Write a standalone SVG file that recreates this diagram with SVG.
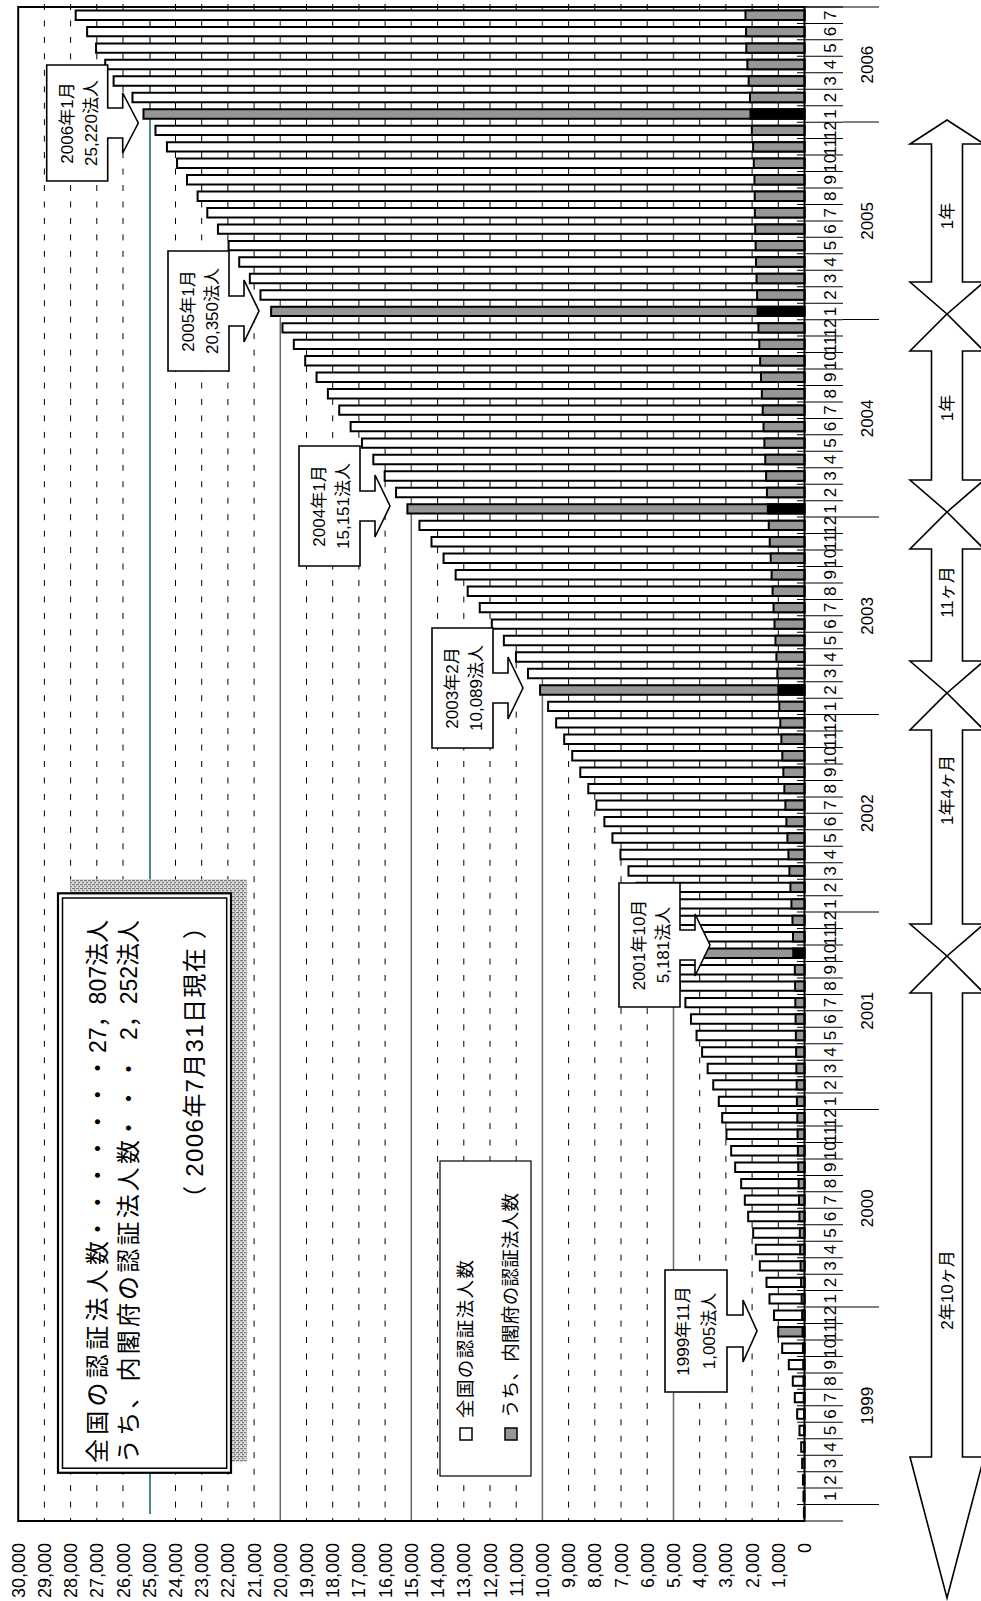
<svg xmlns="http://www.w3.org/2000/svg" width="981" height="1601" viewBox="0 0 981 1601">
<style>
text{font-family:"Liberation Sans","Noto Sans CJK JP",sans-serif;fill:#000}
.gd{stroke:#000;stroke-width:1;stroke-dasharray:6 10.457;fill:none}
.gs{stroke:#666;stroke-width:1.5;fill:none}
.b{stroke:#000;stroke-width:2;vector-effect:non-scaling-stroke}
.t{fill:#fff}.c{fill:#969696}.ht{fill:#969696}.hc{fill:#000}
.mon text{font-size:17px;text-anchor:middle}
.val text{font-size:18px;text-anchor:end}
.co path{fill:#fff;stroke:#000;stroke-width:1.6}
.co text{font-size:17px;text-anchor:middle}
.sp path{fill:#fff;stroke:#000;stroke-width:1.6}
.sp text{font-size:17px;text-anchor:middle}
</style>
<defs>
<pattern id="hatch" width="4" height="4" patternUnits="userSpaceOnUse"><rect width="4" height="4" fill="#dcdcdc"/><rect width="3" height="1.2" fill="#7a7a7a"/><rect x="2" y="2" width="2" height="1.2" fill="#7a7a7a"/></pattern>
</defs>
<rect width="981" height="1601" fill="#fff"/>

<g id="gridlines">
<path class="gd" d="M778.3,4V1521M752.1,4V1521M725.9,4V1521M699.7,4V1521M647.2,4V1521M621,4V1521M594.8,4V1521M568.6,4V1521M516.2,4V1521M490,4V1521M463.8,4V1521M437.6,4V1521M385.1,4V1521M358.9,4V1521M332.7,4V1521M306.5,4V1521M254.1,4V1521M227.9,4V1521M201.7,4V1521M175.5,4V1521M123,4V1521M96.8,4V1521M70.6,4V1521M44.4,4V1521"/>
<path class="gs" d="M673.5,7V1521M542.4,7V1521M411.3,7V1521M280.3,7V1521"/>
<line x1="150" y1="15" x2="150" y2="1514" stroke="#1f6b6b" stroke-width="1.6"/>
</g>

<g id="bars" transform="matrix(-0.02621 0 0 -16.457 804.5 1521)">
<rect class="b t" x="0" y="0.214" width="23" height="0.571"/>
<rect class="b t" x="0" y="1.214" width="40" height="0.571"/>
<rect class="b t" x="0" y="2.214" width="60" height="0.571"/>
<rect class="b t" x="0" y="3.214" width="90" height="0.571"/>
<rect class="b t" x="0" y="4.214" width="126" height="0.571"/>
<rect class="b t" x="0" y="5.214" width="191" height="0.571"/>
<rect class="b t" x="0" y="6.214" width="280" height="0.571"/>
<rect class="b t" x="0" y="7.214" width="370" height="0.571"/>
<rect class="b t" x="0" y="8.214" width="446" height="0.571"/>
<rect class="b t" x="0" y="9.214" width="598" height="0.571"/>
<rect class="b t" x="0" y="10.214" width="851" height="0.571"/>
<rect class="b ht" x="0" y="11.214" width="1005" height="0.571"/>
<rect class="b t" x="0" y="12.214" width="1163" height="0.571"/>
<rect class="b t" x="0" y="13.214" width="1336" height="0.571"/>
<rect class="b t" x="0" y="14.214" width="1450" height="0.571"/>
<rect class="b t" x="0" y="15.214" width="1705" height="0.571"/>
<rect class="b t" x="0" y="16.214" width="1858" height="0.571"/>
<rect class="b t" x="0" y="17.214" width="1958" height="0.571"/>
<rect class="b t" x="0" y="18.214" width="2149" height="0.571"/>
<rect class="b t" x="0" y="19.214" width="2277" height="0.571"/>
<rect class="b t" x="0" y="20.214" width="2416" height="0.571"/>
<rect class="b t" x="0" y="21.214" width="2645" height="0.571"/>
<rect class="b t" x="0" y="22.214" width="2798" height="0.571"/>
<rect class="b t" x="0" y="23.214" width="2977" height="0.571"/>
<rect class="b t" x="0" y="24.214" width="3141" height="0.571"/>
<rect class="b t" x="0" y="25.214" width="3270" height="0.571"/>
<rect class="b t" x="0" y="26.214" width="3482" height="0.571"/>
<rect class="b t" x="0" y="27.214" width="3695" height="0.571"/>
<rect class="b t" x="0" y="28.214" width="3907" height="0.571"/>
<rect class="b t" x="0" y="29.214" width="4119" height="0.571"/>
<rect class="b t" x="0" y="30.214" width="4332" height="0.571"/>
<rect class="b t" x="0" y="31.214" width="4544" height="0.571"/>
<rect class="b t" x="0" y="32.214" width="4756" height="0.571"/>
<rect class="b t" x="0" y="33.214" width="4969" height="0.571"/>
<rect class="b ht" x="0" y="34.214" width="5181" height="0.571"/>
<rect class="b t" x="0" y="35.214" width="5488" height="0.571"/>
<rect class="b t" x="0" y="36.214" width="5795" height="0.571"/>
<rect class="b t" x="0" y="37.214" width="6101" height="0.571"/>
<rect class="b t" x="0" y="38.214" width="6408" height="0.571"/>
<rect class="b t" x="0" y="39.214" width="6715" height="0.571"/>
<rect class="b t" x="0" y="40.214" width="7022" height="0.571"/>
<rect class="b t" x="0" y="41.214" width="7328" height="0.571"/>
<rect class="b t" x="0" y="42.214" width="7635" height="0.571"/>
<rect class="b t" x="0" y="43.214" width="7942" height="0.571"/>
<rect class="b t" x="0" y="44.214" width="8249" height="0.571"/>
<rect class="b t" x="0" y="45.214" width="8555" height="0.571"/>
<rect class="b t" x="0" y="46.214" width="8862" height="0.571"/>
<rect class="b t" x="0" y="47.214" width="9169" height="0.571"/>
<rect class="b t" x="0" y="48.214" width="9476" height="0.571"/>
<rect class="b t" x="0" y="49.214" width="9782" height="0.571"/>
<rect class="b ht" x="0" y="50.214" width="10089" height="0.571"/>
<rect class="b t" x="0" y="51.214" width="10549" height="0.571"/>
<rect class="b t" x="0" y="52.214" width="11009" height="0.571"/>
<rect class="b t" x="0" y="53.214" width="11470" height="0.571"/>
<rect class="b t" x="0" y="54.214" width="11930" height="0.571"/>
<rect class="b t" x="0" y="55.214" width="12390" height="0.571"/>
<rect class="b t" x="0" y="56.214" width="12850" height="0.571"/>
<rect class="b t" x="0" y="57.214" width="13310" height="0.571"/>
<rect class="b t" x="0" y="58.214" width="13771" height="0.571"/>
<rect class="b t" x="0" y="59.214" width="14231" height="0.571"/>
<rect class="b t" x="0" y="60.214" width="14691" height="0.571"/>
<rect class="b ht" x="0" y="61.214" width="15151" height="0.571"/>
<rect class="b t" x="0" y="62.214" width="15584" height="0.571"/>
<rect class="b t" x="0" y="63.214" width="16018" height="0.571"/>
<rect class="b t" x="0" y="64.214" width="16451" height="0.571"/>
<rect class="b t" x="0" y="65.214" width="16884" height="0.571"/>
<rect class="b t" x="0" y="66.214" width="17317" height="0.571"/>
<rect class="b t" x="0" y="67.214" width="17751" height="0.571"/>
<rect class="b t" x="0" y="68.214" width="18184" height="0.571"/>
<rect class="b t" x="0" y="69.214" width="18617" height="0.571"/>
<rect class="b t" x="0" y="70.214" width="19050" height="0.571"/>
<rect class="b t" x="0" y="71.214" width="19484" height="0.571"/>
<rect class="b t" x="0" y="72.214" width="19917" height="0.571"/>
<rect class="b ht" x="0" y="73.214" width="20350" height="0.571"/>
<rect class="b t" x="0" y="74.214" width="20756" height="0.571"/>
<rect class="b t" x="0" y="75.214" width="21162" height="0.571"/>
<rect class="b t" x="0" y="76.214" width="21568" height="0.571"/>
<rect class="b t" x="0" y="77.214" width="21973" height="0.571"/>
<rect class="b t" x="0" y="78.214" width="22379" height="0.571"/>
<rect class="b t" x="0" y="79.214" width="22785" height="0.571"/>
<rect class="b t" x="0" y="80.214" width="23155" height="0.571"/>
<rect class="b t" x="0" y="81.214" width="23560" height="0.571"/>
<rect class="b t" x="0" y="82.214" width="23940" height="0.571"/>
<rect class="b t" x="0" y="83.214" width="24325" height="0.571"/>
<rect class="b t" x="0" y="84.214" width="24763" height="0.571"/>
<rect class="b ht" x="0" y="85.214" width="25220" height="0.571"/>
<rect class="b t" x="0" y="86.214" width="25640" height="0.571"/>
<rect class="b t" x="0" y="87.214" width="26360" height="0.571"/>
<rect class="b t" x="0" y="88.214" width="26680" height="0.571"/>
<rect class="b t" x="0" y="89.214" width="27030" height="0.571"/>
<rect class="b t" x="0" y="90.214" width="27370" height="0.571"/>
<rect class="b t" x="0" y="91.214" width="27807" height="0.571"/>
<rect class="b c" x="0" y="4.214" width="4" height="0.571"/>
<rect class="b c" x="0" y="5.214" width="10" height="0.571"/>
<rect class="b c" x="0" y="6.214" width="20" height="0.571"/>
<rect class="b c" x="0" y="7.214" width="30" height="0.571"/>
<rect class="b c" x="0" y="8.214" width="40" height="0.571"/>
<rect class="b c" x="0" y="9.214" width="50" height="0.571"/>
<rect class="b c" x="0" y="10.214" width="60" height="0.571"/>
<rect class="b hc" x="0" y="11.214" width="75" height="0.571"/>
<rect class="b c" x="0" y="12.214" width="90" height="0.571"/>
<rect class="b c" x="0" y="13.214" width="110" height="0.571"/>
<rect class="b c" x="0" y="14.214" width="130" height="0.571"/>
<rect class="b c" x="0" y="15.214" width="150" height="0.571"/>
<rect class="b c" x="0" y="16.214" width="165" height="0.571"/>
<rect class="b c" x="0" y="17.214" width="180" height="0.571"/>
<rect class="b c" x="0" y="18.214" width="195" height="0.571"/>
<rect class="b c" x="0" y="19.214" width="210" height="0.571"/>
<rect class="b c" x="0" y="20.214" width="225" height="0.571"/>
<rect class="b c" x="0" y="21.214" width="240" height="0.571"/>
<rect class="b c" x="0" y="22.214" width="255" height="0.571"/>
<rect class="b c" x="0" y="23.214" width="265" height="0.571"/>
<rect class="b c" x="0" y="24.214" width="275" height="0.571"/>
<rect class="b c" x="0" y="25.214" width="290" height="0.571"/>
<rect class="b c" x="0" y="26.214" width="300" height="0.571"/>
<rect class="b c" x="0" y="27.214" width="310" height="0.571"/>
<rect class="b c" x="0" y="28.214" width="320" height="0.571"/>
<rect class="b c" x="0" y="29.214" width="330" height="0.571"/>
<rect class="b c" x="0" y="30.214" width="340" height="0.571"/>
<rect class="b c" x="0" y="31.214" width="350" height="0.571"/>
<rect class="b c" x="0" y="32.214" width="360" height="0.571"/>
<rect class="b c" x="0" y="33.214" width="370" height="0.571"/>
<rect class="b hc" x="0" y="34.214" width="430" height="0.571"/>
<rect class="b c" x="0" y="35.214" width="440" height="0.571"/>
<rect class="b c" x="0" y="36.214" width="460" height="0.571"/>
<rect class="b c" x="0" y="37.214" width="499" height="0.571"/>
<rect class="b c" x="0" y="38.214" width="537" height="0.571"/>
<rect class="b c" x="0" y="39.214" width="576" height="0.571"/>
<rect class="b c" x="0" y="40.214" width="614" height="0.571"/>
<rect class="b c" x="0" y="41.214" width="653" height="0.571"/>
<rect class="b c" x="0" y="42.214" width="691" height="0.571"/>
<rect class="b c" x="0" y="43.214" width="730" height="0.571"/>
<rect class="b c" x="0" y="44.214" width="769" height="0.571"/>
<rect class="b c" x="0" y="45.214" width="807" height="0.571"/>
<rect class="b c" x="0" y="46.214" width="846" height="0.571"/>
<rect class="b c" x="0" y="47.214" width="884" height="0.571"/>
<rect class="b c" x="0" y="48.214" width="923" height="0.571"/>
<rect class="b c" x="0" y="49.214" width="961" height="0.571"/>
<rect class="b hc" x="0" y="50.214" width="1000" height="0.571"/>
<rect class="b c" x="0" y="51.214" width="1036" height="0.571"/>
<rect class="b c" x="0" y="52.214" width="1073" height="0.571"/>
<rect class="b c" x="0" y="53.214" width="1109" height="0.571"/>
<rect class="b c" x="0" y="54.214" width="1145" height="0.571"/>
<rect class="b c" x="0" y="55.214" width="1182" height="0.571"/>
<rect class="b c" x="0" y="56.214" width="1218" height="0.571"/>
<rect class="b c" x="0" y="57.214" width="1255" height="0.571"/>
<rect class="b c" x="0" y="58.214" width="1291" height="0.571"/>
<rect class="b c" x="0" y="59.214" width="1327" height="0.571"/>
<rect class="b c" x="0" y="60.214" width="1364" height="0.571"/>
<rect class="b hc" x="0" y="61.214" width="1400" height="0.571"/>
<rect class="b c" x="0" y="62.214" width="1433" height="0.571"/>
<rect class="b c" x="0" y="63.214" width="1465" height="0.571"/>
<rect class="b c" x="0" y="64.214" width="1498" height="0.571"/>
<rect class="b c" x="0" y="65.214" width="1530" height="0.571"/>
<rect class="b c" x="0" y="66.214" width="1563" height="0.571"/>
<rect class="b c" x="0" y="67.214" width="1595" height="0.571"/>
<rect class="b c" x="0" y="68.214" width="1628" height="0.571"/>
<rect class="b c" x="0" y="69.214" width="1660" height="0.571"/>
<rect class="b c" x="0" y="70.214" width="1693" height="0.571"/>
<rect class="b c" x="0" y="71.214" width="1725" height="0.571"/>
<rect class="b c" x="0" y="72.214" width="1758" height="0.571"/>
<rect class="b hc" x="0" y="73.214" width="1790" height="0.571"/>
<rect class="b c" x="0" y="74.214" width="1810" height="0.571"/>
<rect class="b c" x="0" y="75.214" width="1830" height="0.571"/>
<rect class="b c" x="0" y="76.214" width="1850" height="0.571"/>
<rect class="b c" x="0" y="77.214" width="1865" height="0.571"/>
<rect class="b c" x="0" y="78.214" width="1880" height="0.571"/>
<rect class="b c" x="0" y="79.214" width="1895" height="0.571"/>
<rect class="b c" x="0" y="80.214" width="1900" height="0.571"/>
<rect class="b c" x="0" y="81.214" width="1910" height="0.571"/>
<rect class="b c" x="0" y="82.214" width="1935" height="0.571"/>
<rect class="b c" x="0" y="83.214" width="1960" height="0.571"/>
<rect class="b c" x="0" y="84.214" width="2010" height="0.571"/>
<rect class="b hc" x="0" y="85.214" width="2061" height="0.571"/>
<rect class="b c" x="0" y="86.214" width="2080" height="0.571"/>
<rect class="b c" x="0" y="87.214" width="2130" height="0.571"/>
<rect class="b c" x="0" y="88.214" width="2180" height="0.571"/>
<rect class="b c" x="0" y="89.214" width="2220" height="0.571"/>
<rect class="b c" x="0" y="90.214" width="2230" height="0.571"/>
<rect class="b c" x="0" y="91.214" width="2252" height="0.571"/>
</g>

<g id="axes">
<path d="M18.2,7H804.5V1521H18.2Z" fill="none" stroke="#000" stroke-width="2"/>
<line x1="820" y1="1521.5" x2="820" y2="6" stroke="#000" stroke-width="46" stroke-dasharray="1 15.457"/>
<line x1="861" y1="1505" x2="861" y2="100" stroke="#000" stroke-width="36" stroke-dasharray="1 196.484"/>
<line x1="804" y1="7" x2="879" y2="7" stroke="#000" stroke-width="1"/>
</g>

<g class="mon" transform="rotate(-90)">
<text x="-1496.3" y="836">1</text><text x="-1479.9" y="836">2</text><text x="-1463.4" y="836">3</text><text x="-1447" y="836">4</text><text x="-1430.5" y="836">5</text><text x="-1414" y="836">6</text><text x="-1397.6" y="836">7</text><text x="-1381.1" y="836">8</text><text x="-1364.7" y="836">9</text><text x="-1348.2" y="836">10</text><text x="-1331.8" y="836">11</text><text x="-1315.3" y="836">12</text>
<text x="-1298.8" y="836">1</text><text x="-1282.4" y="836">2</text><text x="-1265.9" y="836">3</text><text x="-1249.5" y="836">4</text><text x="-1233" y="836">5</text><text x="-1216.5" y="836">6</text><text x="-1200.1" y="836">7</text><text x="-1183.6" y="836">8</text><text x="-1167.2" y="836">9</text><text x="-1150.7" y="836">10</text><text x="-1134.3" y="836">11</text><text x="-1117.8" y="836">12</text>
<text x="-1101.3" y="836">1</text><text x="-1084.9" y="836">2</text><text x="-1068.4" y="836">3</text><text x="-1052" y="836">4</text><text x="-1035.5" y="836">5</text><text x="-1019.1" y="836">6</text><text x="-1002.6" y="836">7</text><text x="-986.1" y="836">8</text><text x="-969.7" y="836">9</text><text x="-953.2" y="836">10</text><text x="-936.8" y="836">11</text><text x="-920.3" y="836">12</text>
<text x="-903.9" y="836">1</text><text x="-887.4" y="836">2</text><text x="-870.9" y="836">3</text><text x="-854.5" y="836">4</text><text x="-838" y="836">5</text><text x="-821.6" y="836">6</text><text x="-805.1" y="836">7</text><text x="-788.7" y="836">8</text><text x="-772.2" y="836">9</text><text x="-755.7" y="836">10</text><text x="-739.3" y="836">11</text><text x="-722.8" y="836">12</text>
<text x="-706.4" y="836">1</text><text x="-689.9" y="836">2</text><text x="-673.5" y="836">3</text><text x="-657" y="836">4</text><text x="-640.5" y="836">5</text><text x="-624.1" y="836">6</text><text x="-607.6" y="836">7</text><text x="-591.2" y="836">8</text><text x="-574.7" y="836">9</text><text x="-558.3" y="836">10</text><text x="-541.8" y="836">11</text><text x="-525.3" y="836">12</text>
<text x="-508.9" y="836">1</text><text x="-492.4" y="836">2</text><text x="-476" y="836">3</text><text x="-459.5" y="836">4</text><text x="-443.1" y="836">5</text><text x="-426.6" y="836">6</text><text x="-410.1" y="836">7</text><text x="-393.7" y="836">8</text><text x="-377.2" y="836">9</text><text x="-360.8" y="836">10</text><text x="-344.3" y="836">11</text><text x="-327.9" y="836">12</text>
<text x="-311.4" y="836">1</text><text x="-294.9" y="836">2</text><text x="-278.5" y="836">3</text><text x="-262" y="836">4</text><text x="-245.6" y="836">5</text><text x="-229.1" y="836">6</text><text x="-212.7" y="836">7</text><text x="-196.2" y="836">8</text><text x="-179.7" y="836">9</text><text x="-163.3" y="836">10</text><text x="-146.8" y="836">11</text><text x="-130.4" y="836">12</text>
<text x="-113.9" y="836">1</text><text x="-97.5" y="836">2</text><text x="-81" y="836">3</text><text x="-64.5" y="836">4</text><text x="-48.1" y="836">5</text><text x="-31.6" y="836">6</text><text x="-15.2" y="836">7</text>
<text x="-1405.8" y="873">1999</text><text x="-1208.3" y="873">2000</text><text x="-1010.8" y="873">2001</text><text x="-813.3" y="873">2002</text><text x="-615.9" y="873">2003</text><text x="-418.4" y="873">2004</text><text x="-220.9" y="873">2005</text><text x="-64.6" y="873">2006</text>
</g>

<g class="val" transform="rotate(-90)">
<text x="-1543" y="24.7">30,000</text><text x="-1543" y="50.9">29,000</text><text x="-1543" y="77.1">28,000</text><text x="-1543" y="103.3">27,000</text><text x="-1543" y="129.5">26,000</text><text x="-1543" y="155.8">25,000</text><text x="-1543" y="182">24,000</text><text x="-1543" y="208.2">23,000</text><text x="-1543" y="234.4">22,000</text><text x="-1543" y="260.6">21,000</text><text x="-1543" y="286.8">20,000</text><text x="-1543" y="313">19,000</text><text x="-1543" y="339.2">18,000</text><text x="-1543" y="365.4">17,000</text><text x="-1543" y="391.6">16,000</text><text x="-1543" y="417.8">15,000</text><text x="-1543" y="444.1">14,000</text><text x="-1543" y="470.3">13,000</text><text x="-1543" y="496.5">12,000</text><text x="-1543" y="522.7">11,000</text><text x="-1543" y="548.9">10,000</text><text x="-1543" y="575.1">9,000</text><text x="-1543" y="601.3">8,000</text><text x="-1543" y="627.5">7,000</text><text x="-1543" y="653.7">6,000</text><text x="-1543" y="680">5,000</text><text x="-1543" y="706.2">4,000</text><text x="-1543" y="732.4">3,000</text><text x="-1543" y="758.6">2,000</text><text x="-1543" y="784.8">1,000</text><text x="-1543" y="811">0</text>
</g>

<g id="title-box">
<rect x="70" y="879.3" width="176.7" height="582.4" fill="url(#hatch)"/>
<rect x="58" y="893.3" width="173" height="579.5" fill="#fff" stroke="#000" stroke-width="2.2"/>
<rect x="62.5" y="898" width="164.2" height="570.2" fill="none" stroke="#000" stroke-width="1.5"/>
<g transform="rotate(-90)" font-size="24">
<text x="-1463" y="106" textLength="222" lengthAdjust="spacing">全国の認証法人数</text>
<text x="-1241" y="106" textLength="185" lengthAdjust="spacing">・・・・・・・</text>
<text x="-1053" y="106" textLength="133" lengthAdjust="spacingAndGlyphs">27，807法人</text>
<text x="-1463" y="137" textLength="323" lengthAdjust="spacing">うち、内閣府の認証法人数</text>
<text x="-1140" y="137" textLength="83" lengthAdjust="spacing">・・・</text>
<text x="-1040" y="137" textLength="120" lengthAdjust="spacingAndGlyphs">2，252法人</text>
<text x="-1210" y="203" textLength="295" lengthAdjust="spacing">（ 2006年7月31日現在 ）</text>
</g>
</g>

<g id="legend">
<rect x="440" y="1161" width="91" height="315" fill="#fff" stroke="#000" stroke-width="1.2"/>
<rect x="460" y="1428" width="12" height="12" fill="#fff" stroke="#000" stroke-width="1.5"/>
<rect x="505" y="1428" width="12" height="12" fill="#969696" stroke="#000" stroke-width="1.5"/>
<g transform="rotate(-90)" font-size="18.5">
<text x="-1418" y="472" textLength="158" lengthAdjust="spacing">全国の認証法人数</text>
<text x="-1418" y="517" textLength="225" lengthAdjust="spacing">うち、内閣府の認証法人数</text>
</g>
</g>

<g id="callout-2006-01" class="co">
<path d="M46.7,65H107.7V108H122.7V93L138.3,123L122.7,153V138H107.7V181H46.7Z"/>
<g transform="rotate(-90)"><text x="-123" y="72.5">2006年1月</text><text x="-123" y="97">25,220法人</text></g>
</g>
<g id="callout-2005-01" class="co">
<path d="M168,251H229V296H244V280L259,311L244,342V326H229V371H168Z"/>
<g transform="rotate(-90)"><text x="-311" y="193.5">2005年1月</text><text x="-311" y="218">20,350法人</text></g>
</g>
<g id="callout-2004-01" class="co">
<path d="M299,446H360V491H375V475L390,506L375,537V521H360V566H299Z"/>
<g transform="rotate(-90)"><text x="-506" y="324.5">2004年1月</text><text x="-506" y="349">15,151法人</text></g>
</g>
<g id="callout-2003-02" class="co">
<path d="M432,628H493V673H508V657L523,688L508,719V703H493V748H432Z"/>
<g transform="rotate(-90)"><text x="-688" y="457.5">2003年2月</text><text x="-688" y="482">10,089法人</text></g>
</g>
<g id="callout-2001-10" class="co">
<path d="M619,883H680V930H695V914L710,945L695,976V960H680V1007H619Z"/>
<g transform="rotate(-90)"><text x="-945" y="644.5">2001年10月</text><text x="-945" y="669">5,181法人</text></g>
</g>
<g id="callout-1999-11" class="co">
<path d="M665,1270H727V1315H743V1300L757,1331L743,1362V1347H727V1392H665Z"/>
<g transform="rotate(-90)"><text x="-1331" y="689">1999年11月</text><text x="-1331" y="715">1,005法人</text></g>
</g>

<g id="connectors" class="sp">
<path d="M947,120L984,144H962.5V282H984L947,314L910,282H931.5V144H910Z"/>
<path d="M947,314L984,351H962.5V480H984L947,512L910,480H931.5V351H910Z"/>
<path d="M947,512L984,549H962.5V661H984L947,693L910,661H931.5V549H910Z"/>
<path d="M947,693L984,730H962.5V924H984L947,956L910,924H931.5V730H910Z"/>
<path d="M947,956L984,993H962.5V1457H984L947,1598L910,1457H931.5V993H910Z"/>
<g transform="rotate(-90)">
<text x="-216" y="953">1年</text>
<text x="-408" y="953">1年</text>
<text x="-592" y="953">11ヶ月</text>
<text x="-790" y="953">1年4ヶ月</text>
<text x="-1290" y="953">2年10ヶ月</text>
</g>
</g>
</svg>
